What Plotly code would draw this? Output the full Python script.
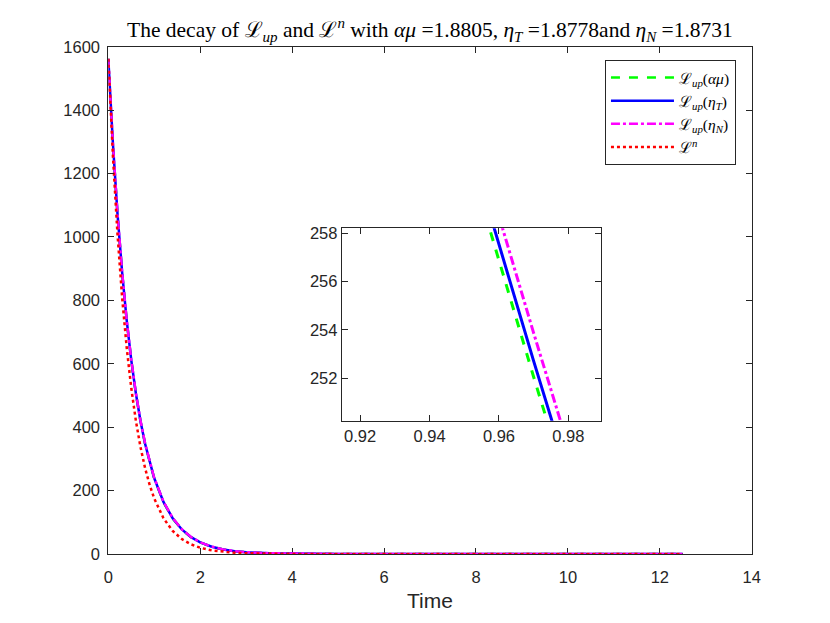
import plotly.graph_objects as go

# values
t_up = [0, 0.05, 0.1, 0.2, 0.3, 0.4, 0.5, 0.6, 0.7, 0.8, 0.9, 0.95, 0.96, 0.97, 0.98, 0.99, 1.0,
        1.2, 1.4, 1.6, 1.8, 2.0, 2.25, 2.5, 2.75, 3.0, 3.5, 4.0, 5.0, 6.0, 8.0, 10.0, 12.5]
L_alpha_mu = [1562, 1421.8, 1294.2, 1072.4, 888.5, 736.2, 610.0, 505.4, 418.8, 347.0, 287.5,
              261.72, 256.84, 252.05, 247.36, 242.75, 238.23,
              163.55, 112.28, 77.09, 52.92, 36.34, 22.71, 14.20, 8.87, 5.54, 2.17, 0.85, 0.13, 0.02, 0.0, 0.0, 0.0]
L_eta_T = [1562, 1422.0, 1294.6, 1072.9, 889.3, 737.0, 610.8, 506.2, 419.6, 347.7, 288.2,
           262.39, 257.50, 252.71, 248.01, 243.40, 238.87,
           164.08, 112.71, 77.42, 53.18, 36.53, 22.84, 14.28, 8.93, 5.59, 2.19, 0.85, 0.13, 0.02, 0.0, 0.0, 0.0]
L_eta_N = [1562, 1422.4, 1295.2, 1073.9, 890.5, 738.4, 612.3, 507.7, 421.0, 349.0, 289.4,
           263.56, 258.67, 253.87, 249.16, 244.53, 240.0,
           165.01, 113.45, 78.0, 53.63, 36.88, 23.09, 14.45, 9.05, 5.67, 2.22, 0.87, 0.14, 0.02, 0.0, 0.0, 0.0]

t_n = [0, 0.05, 0.1, 0.2, 0.3, 0.4, 0.5, 0.6, 0.7, 0.8, 0.9, 1.0, 1.2, 1.4, 1.6, 1.8, 2.0,
       2.25, 2.5, 2.75, 3.0, 3.5, 4.0, 5.0, 6.0, 8.0, 10.0, 12.5]
L_n = [1562, 1400.0, 1254.8, 1008.0, 809.7, 650.5, 522.6, 419.8, 337.2, 270.9, 217.6, 174.8,
       112.8, 72.8, 47.0, 30.3, 19.6, 11.3, 6.5, 3.8, 2.2, 0.73, 0.25, 0.03, 0.0, 0.0, 0.0, 0.0]

x_ticks = [0, 2, 4, 6, 8, 10, 12, 14]
y_ticks = [0, 200, 400, 600, 800, 1000, 1200, 1400, 1600]
inset_x_ticks = [0.92, 0.94, 0.96, 0.98]
inset_y_ticks = [252, 254, 256, 258]

LS = "\u2112"  # script L
series = [
    (t_up, L_alpha_mu, LS + "<sub><i>up</i></sub>(<i>αμ</i>)", "#00ff00", "dash"),
    (t_up, L_eta_T, LS + "<sub><i>up</i></sub>(<i>η<sub>T</sub></i>)", "#0000ff", "solid"),
    (t_up, L_eta_N, LS + "<sub><i>up</i></sub>(<i>η<sub>N</sub></i>)", "#ff00ff", "dashdot"),
    (t_n, L_n, LS + "<sup><i>n</i></sup>", "#ff0000", "dot"),
]

fig = go.Figure()
for x, y, name, col, dash in series:
    fig.add_trace(go.Scatter(x=x, y=y, mode="lines", name=name,
                             line=dict(color=col, width=2.5, dash=dash)))
for x, y, name, col, dash in series:
    fig.add_trace(go.Scatter(x=x, y=y, mode="lines", name=name, showlegend=False,
                             xaxis="x2", yaxis="y2",
                             line=dict(color=col, width=3, dash=dash)))

# the page puts the figure 8px in from the top-left corner, so pull everything back
dx = 8 / 830
dy = 8 / 623

axcol = "#262626"
tickfont = dict(family="Liberation Sans, Arial, sans-serif", size=16.5, color=axcol)
common = dict(showline=True, linecolor=axcol, linewidth=1, mirror="ticks",
              ticks="inside", ticklen=6, tickcolor=axcol, tickfont=tickfont,
              showgrid=False, zeroline=False, fixedrange=True, automargin=False)

fig.update_layout(
    template="none",
    width=830, height=623,
    margin=dict(l=0, r=0, t=0, b=0, pad=0),
    paper_bgcolor="white", plot_bgcolor="white",
    title=dict(
        text="The decay of " + LS + "<sub><i>up</i></sub> and " + LS + "<sup><i>n</i></sup> with <i>αμ</i> =1.8805, "
             "<i>η<sub>T</sub></i> =1.8778and <i>η<sub>N</sub></i> =1.8731",
        x=0.518 - dx, xanchor="center", y=0.952 + dy, yanchor="middle",
        font=dict(family="Liberation Serif, DejaVu Serif, serif", size=21.5, color="black")),
    xaxis=dict(domain=[0.1305 - dx, 0.9057 - dx], range=[0, 14], tickvals=x_ticks,
               ticklabelstandoff=8,
               title=dict(text="Time", font=dict(family="Liberation Sans, Arial, sans-serif",
                                                  size=21, color=axcol), standoff=8),
               layer="below traces", **common),
    yaxis=dict(domain=[0.1108 + dy, 0.925 + dy], range=[0, 1600], tickvals=y_ticks,
               ticklabelstandoff=4, **common),
    xaxis2=dict(domain=[0.4117 - dx, 0.7241 - dx], range=[0.9147, 0.9894], tickvals=inset_x_ticks,
                anchor="y2", **common),
    yaxis2=dict(domain=[0.3247 + dy, 0.6335 + dy], range=[250.24, 258.21], tickvals=inset_y_ticks,
                anchor="x2", **common),
    legend=dict(x=0.8867 - dx, xanchor="right", y=0.9037 + dy, yanchor="top",
                bgcolor="white", bordercolor=axcol, borderwidth=1,
                itemwidth=63, tracegroupgap=0,
                font=dict(family="Liberation Serif, DejaVu Serif, serif", size=15.5, color="black")),
    showlegend=True,
)

fig.write_html("out.html")
